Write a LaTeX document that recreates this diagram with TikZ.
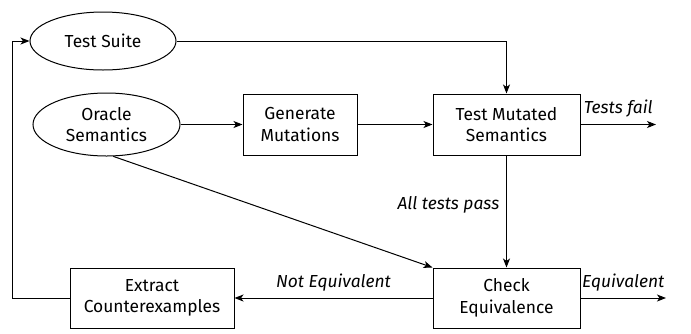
\documentclass[tikz,border=0pt]{standalone}
\usepackage{fontspec}
\setmainfont{Fira Sans}
\usetikzlibrary{shapes.geometric,arrows.meta}

\tikzset{
  stepbox/.style={draw, rectangle, align=center, inner sep=0pt},
  inputs/.style={draw, ellipse, align=center, inner sep=0pt},
  flow/.style={-{Stealth[length=4.5pt,width=3.5pt,inset=1.2pt]}},
  lbl/.style={font=\fontsize{8.7}{10}\selectfont\itshape}
}

\begin{document}
\begin{tikzpicture}[x=0.5pt,y=-0.5pt,line width=0.5pt,font=\fontsize{8.7}{10.8}\selectfont]
\useasboundingbox (0,0) rectangle (691,333);
% inputs
\node[inputs,minimum width=73pt,minimum height=29pt] (suite) at (103,41) {Test Suite};
\node[inputs,minimum width=73.5pt,minimum height=31.5pt] (oracle) at (106.5,124.5) {Oracle\\Semantics};
% steps
\node[stepbox,minimum width=57pt,minimum height=30.5pt] (gen) at (300,124.5) {Generate\\Mutations};
\node[stepbox,minimum width=73.5pt,minimum height=30.5pt] (test) at (506.5,124.5) {Test Mutated\\Semantics};
\node[stepbox,minimum width=73.5pt,minimum height=30pt] (check) at (506.5,298) {Check\\Equivalence};
\node[stepbox,minimum width=82pt,minimum height=30pt] (extract) at (152,298) {Extract\\Counterexamples};
% loose ends
\coordinate (failend) at (656,124.5);
\coordinate (eqend) at (666,298);
% connectors
\draw[flow] (suite.east) -| (test.north);
\draw[flow] (oracle.east) -- (gen.west);
\draw[flow] (gen.east) -- (test.west);
\draw[flow] (oracle.-78) -- (check.north west);
\draw[flow] (test.east) -- (failend) node[midway,above,lbl] {Tests fail};
\draw[flow] (test.south) -- (check.north) node[pos=0.44,left,lbl] {All tests pass};
\draw[flow] (check.east) -- (eqend) node[midway,above,lbl] {Equivalent};
\draw[flow] (check.west) -- (extract.east) node[midway,above,lbl] {Not Equivalent};
\draw[flow] (extract.west) -- ++(-57,0) |- (suite.west);
\end{tikzpicture}
\end{document}
